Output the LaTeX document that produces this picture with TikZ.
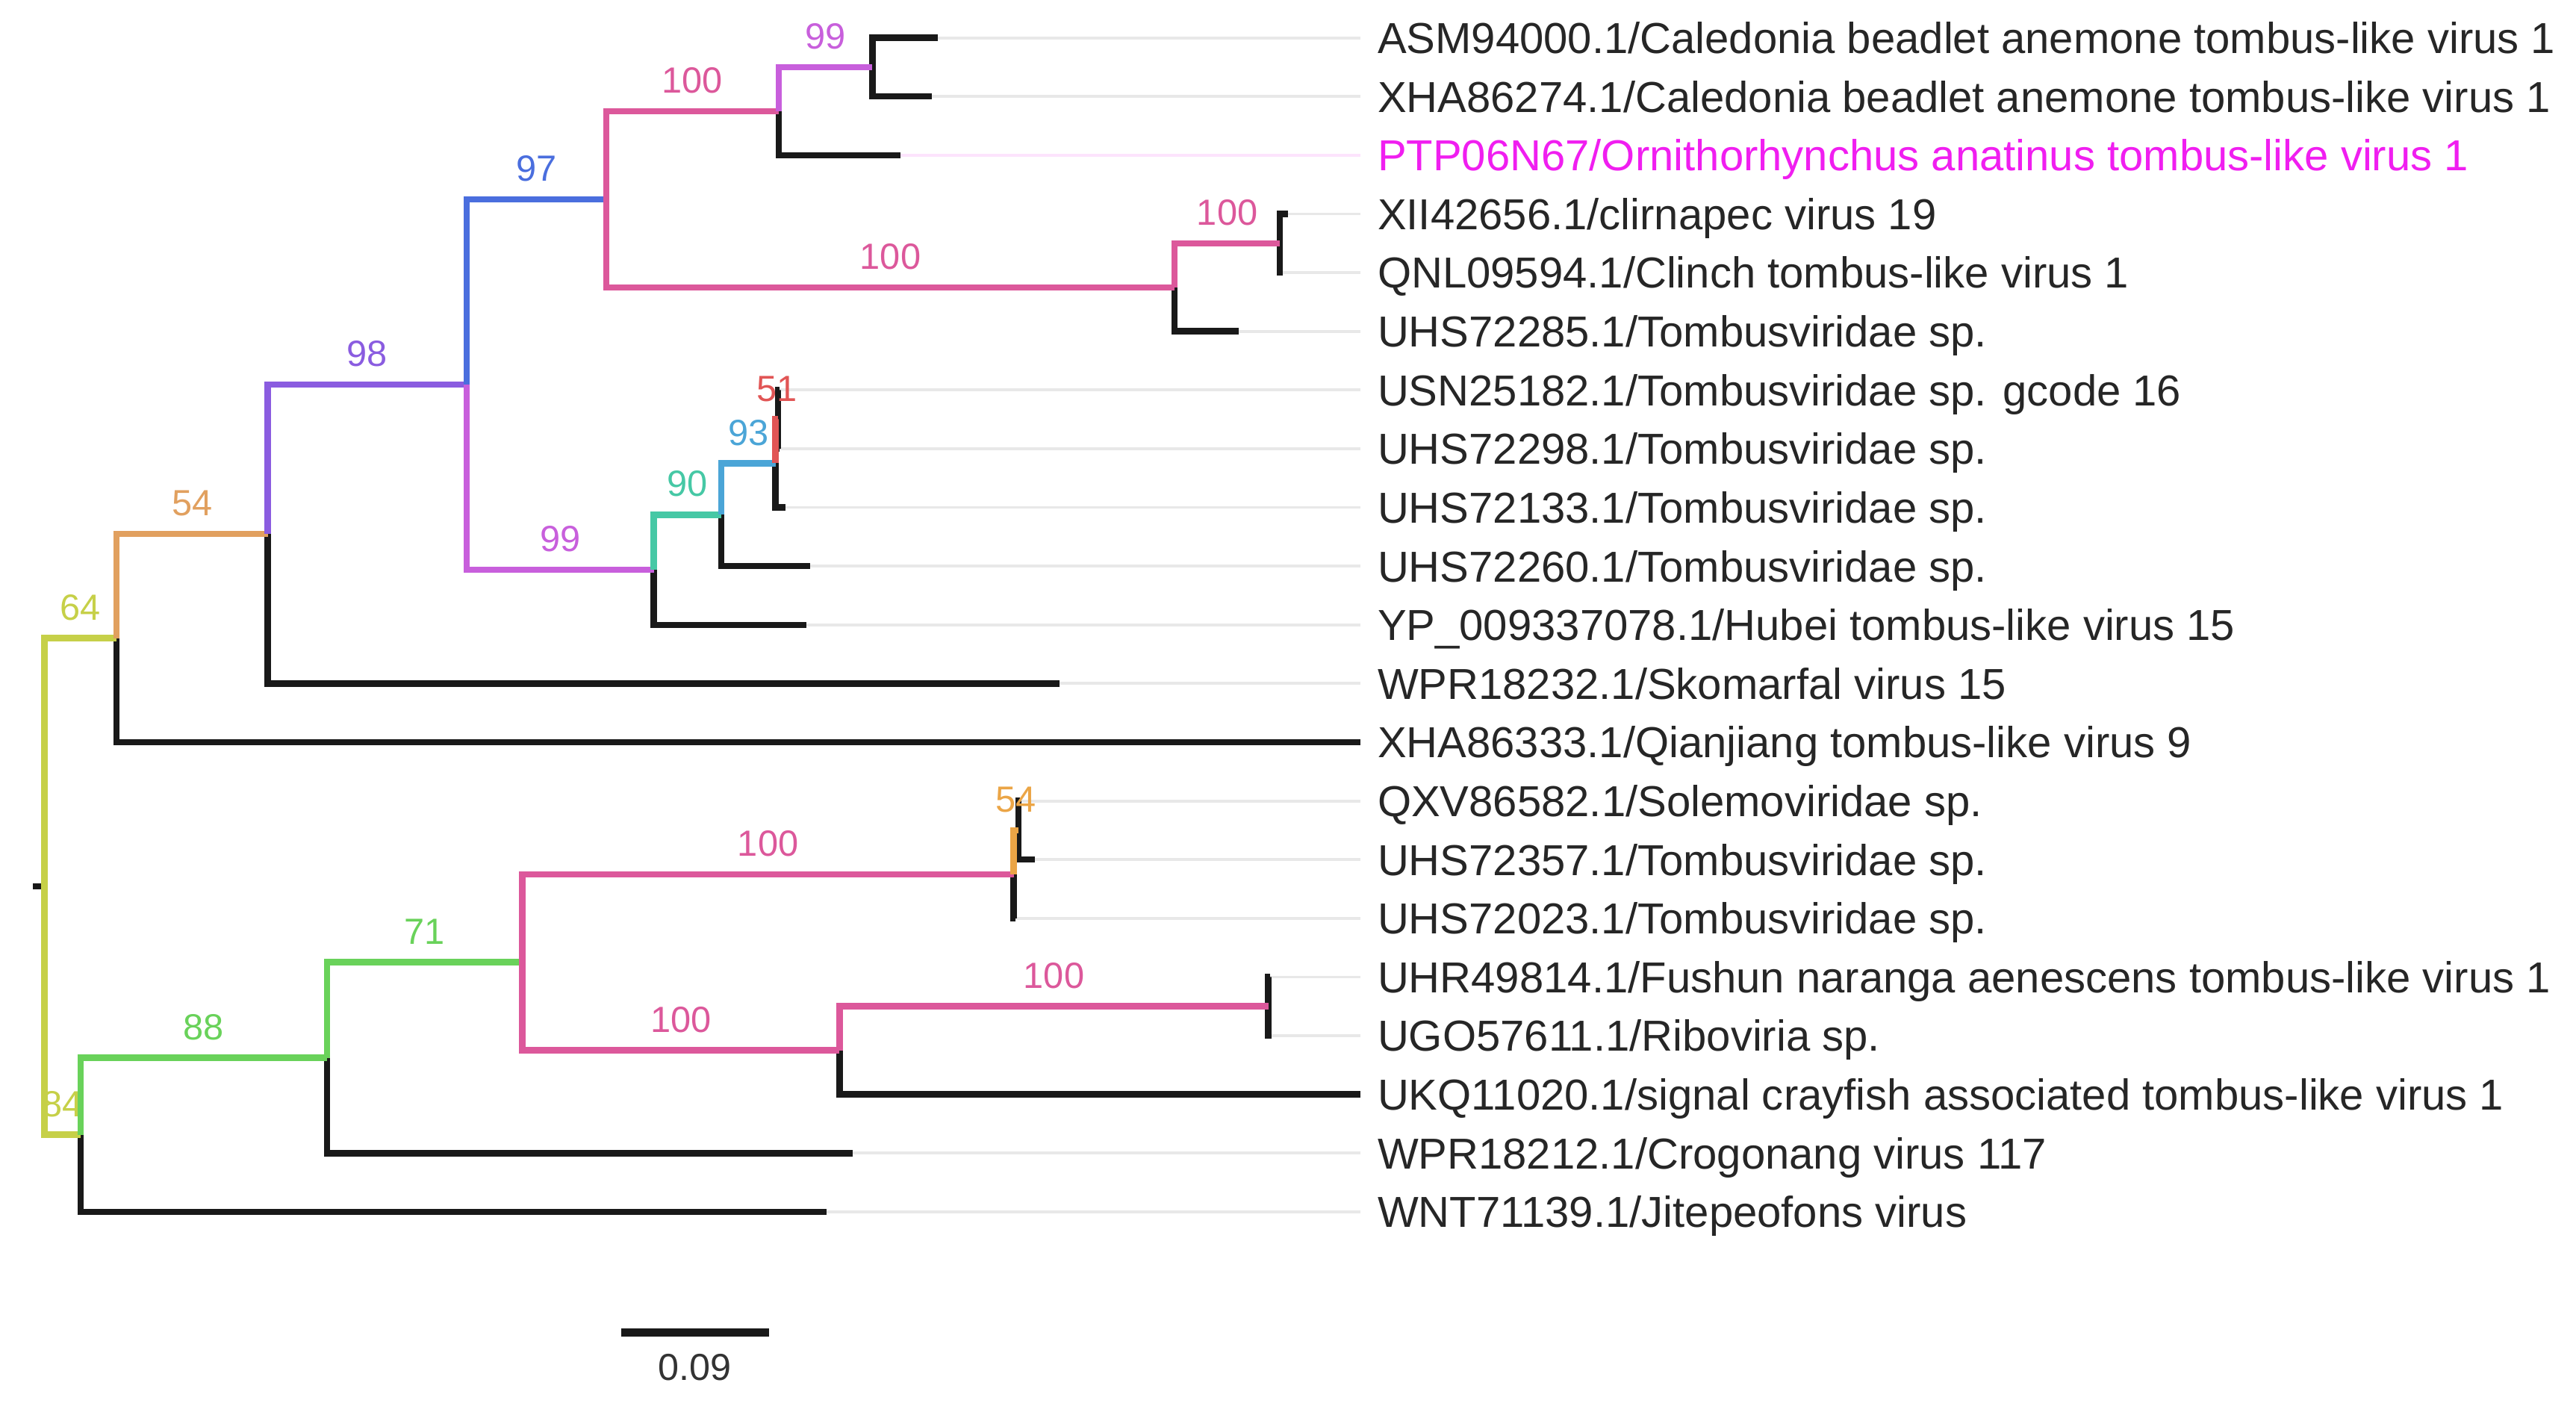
\documentclass[tikz,border=0pt]{standalone}
\usepackage{fontspec}
\setmainfont{Liberation Sans}
\usetikzlibrary{positioning}

\definecolor{rootcol}{RGB}{198,208,72}
\definecolor{orangecol}{RGB}{225,160,95}
\definecolor{purplecol}{RGB}{138,92,224}
\definecolor{bluecol}{RGB}{74,110,222}
\definecolor{pinkcol}{RGB}{220,88,155}
\definecolor{violetcol}{RGB}{200,95,220}
\definecolor{tealcol}{RGB}{70,200,165}
\definecolor{skycol}{RGB}{75,165,215}
\definecolor{redcol}{RGB}{225,85,85}
\definecolor{greencol}{RGB}{105,210,90}
\definecolor{ambercol}{RGB}{235,165,70}
\definecolor{magcol}{RGB}{240,30,240}

\tikzset{
  branch/.style={black!90, line width=1.1pt},
  tipline/.style={draw=black!9, line width=0.5pt},
  taxon/.style={anchor=west, inner sep=2.8pt, text=black!85, text height=5.4pt, text depth=0pt, font=\fontsize{7.5}{8}\selectfont},
  boot/.style={pos=0.75, anchor=south, inner sep=2.6pt, text height=4.5pt, text depth=0pt, font=\fontsize{6.3}{7}\selectfont},
}

\begin{document}
\begin{tikzpicture}[x=0.01cm, y=-0.01cm]
\useasboundingbox (0,0) rectangle (1568,863);

% taxa
\foreach \i/\tx/\name in {0/571/{ASM94000.1/Caledonia beadlet anemone tombus-like virus 1},
    1/567/{XHA86274.1/Caledonia beadlet anemone tombus-like virus 1},
    3/784/{XII42656.1/clirnapec virus 19}, 4/781/{QNL09594.1/Clinch tombus-like virus 1},
    5/754/{UHS72285.1/Tombusviridae sp.}, 6/474.5/{USN25182.1/Tombusviridae sp. gcode 16},
    7/474.5/{UHS72298.1/Tombusviridae sp.}, 8/478/{UHS72133.1/Tombusviridae sp.},
    9/493/{UHS72260.1/Tombusviridae sp.}, 10/491/{YP\_009337078.1/Hubei tombus-like virus 15},
    11/645/{WPR18232.1/Skomarfal virus 15}, 12/828/{XHA86333.1/Qianjiang tombus-like virus 9},
    13/621/{QXV86582.1/Solemoviridae sp.}, 14/630/{UHS72357.1/Tombusviridae sp.},
    15/618/{UHS72023.1/Tombusviridae sp.}, 16/773/{UHR49814.1/Fushun naranga aenescens tombus-like virus 1},
    17/774/{UGO57611.1/Riboviria sp.}, 18/828/{UKQ11020.1/signal crayfish associated tombus-like virus 1},
    19/519/{WPR18212.1/Crogonang virus 117}, 20/503/{WNT71139.1/Jitepeofons virus}}{
  \coordinate (t\i) at (\tx,{23+35.73*\i});
  \node[taxon] (L\i) at (828,{23+35.73*\i}) {\name};
  \draw[tipline] (t\i) -- (L\i.west);
}
\coordinate (t2) at (548,94.5);
\node[taxon, text=magcol] (L2) at (828,94.5) {PTP06N67/Ornithorhynchus anatinus tombus-like virus 1};
\draw[tipline, draw=magcol!12] (t2) -- (L2.west);

% internal nodes
\coordinate (rs) at (20,539.5);
\coordinate (r) at (27,539.5);
\coordinate (n64) at (71,388.4);
\coordinate (n54) at (163,325.0);
\coordinate (n98) at (284,234.0);
\coordinate (n97) at (369,121.3);
\coordinate (n100a) at (474,67.7);
\coordinate (n99a) at (531,40.85);
\coordinate (n100b) at (715,174.9);
\coordinate (n100c) at (779,148.1);
\coordinate (n99b) at (398,346.8);
\coordinate (n90) at (439,313.3);
\coordinate (n93) at (472,282.0);
\coordinate (n51) at (473.5,255.3);
\coordinate (n84) at (49,690.7);
\coordinate (n88) at (199,643.8);
\coordinate (n71) at (318,585.7);
\coordinate (n100d) at (617,532.1);
\coordinate (n54b) at (620,505.4);
\coordinate (n100e) at (511,639.3);
\coordinate (n100f) at (772,612.5);

% terminal branches
\draw[branch] (rs) -- (r);
\foreach \a/\b in {n99a/t0, n99a/t1, n100a/t2, n100c/t3, n100c/t4, n100b/t5,
    n51/t6, n51/t7, n93/t8, n90/t9, n99b/t10, n54/t11, n64/t12,
    n54b/t13, n54b/t14, n100d/t15, n100f/t16, n100f/t17, n100e/t18, n88/t19, n84/t20}
  \draw[branch] (\a) |- (\b);

% supported branches
\foreach \a/\b/\c/\s in {r/n64/rootcol/64, r/n84/rootcol/84, n64/n54/orangecol/54,
    n54/n98/purplecol/98, n98/n97/bluecol/97, n98/n99b/violetcol/99,
    n97/n100a/pinkcol/100, n97/n100b/pinkcol/100, n100a/n99a/violetcol/99,
    n100b/n100c/pinkcol/100, n99b/n90/tealcol/90, n90/n93/skycol/93, n93/n51/redcol/51,
    n84/n88/greencol/88, n88/n71/greencol/71, n71/n100d/pinkcol/100, n71/n100e/pinkcol/100,
    n100d/n54b/ambercol/54, n100e/n100f/pinkcol/100}
  \draw[branch, \c] (\a) |- node[boot] {\s} (\b);

% scale bar
\coordinate (sb1) at (378,811);
\coordinate (sb2) at (468,811);
\draw[black!90, line width=1.4pt] (sb1) -- node[below=3pt, inner sep=0pt, text=black!80, font=\fontsize{6.5}{7}\selectfont] {0.09} (sb2);
\end{tikzpicture}
\end{document}
